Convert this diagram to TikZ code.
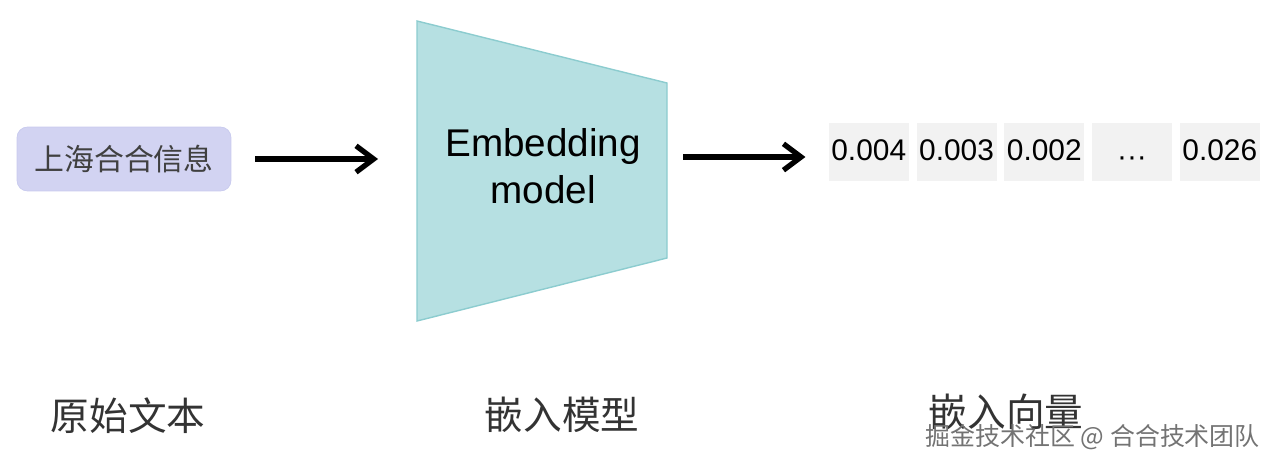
\documentclass[tikz,border=0pt]{standalone}
\usepackage{fontspec}
\setmainfont{Liberation Sans}
\newfontfamily\cjk{Noto Sans CJK SC}
\usepackage{tikz}
\usetikzlibrary{arrows.meta}
\usepackage{xcolor}
\definecolor{inputlav}{RGB}{210,211,242}
\definecolor{inputedge}{RGB}{200,202,238}
\definecolor{modelteal}{RGB}{182,224,226}
\definecolor{modeledge}{RGB}{140,204,207}
\definecolor{cellgray}{RGB}{242,242,242}

\tikzset{
    inbox/.style={fill=inputlav, draw=inputedge, rounded corners=6pt,
        minimum width=4.28cm, minimum height=1.28cm, inner sep=0pt,
        font=\cjk\fontsize{17}{20}\selectfont, text=black!75},
    flow/.style={line width=3pt, -{Straight Barb[length=10pt, width=15pt]}},
    cell/.style={fill=cellgray, minimum width=1.6cm, minimum height=1.16cm,
        inner sep=0pt, text height=1em, text depth=0pt,
        font=\fontsize{17}{20}\selectfont},
    caption/.style={font=\cjk\fontsize{22}{26}\selectfont, text=black!80},
    watermark/.style={font=\cjk\fontsize{14.2}{16}\selectfont, text=black!55}
}

\begin{document}
\begin{tikzpicture}[x=0.02cm, y=-0.02cm]
    \useasboundingbox (0,0) rectangle (1280,463);

    % Input text
    \node[inbox] (src) at (124,159) {上海合合信息};

    % Embedding model
    \coordinate (mtl) at (417,21);
    \coordinate (mtr) at (667,83);
    \coordinate (mbr) at (667,258);
    \coordinate (mbl) at (417,321);
    \filldraw[fill=modelteal, draw=modeledge, line width=0.8pt]
        (mtl) -- (mtr) -- (mbr) -- (mbl) -- cycle;
    \node[align=center, font=\fontsize{22}{26.6}\selectfont] (model) at (543,166)
        {Embedding\\model};

    % Output vector
    \foreach \v [count=\i] in {0.004, 0.003, 0.002, \raisebox{-0.2em}{···}, 0.026}
        \node[cell] (v\i) at ({781+87.75*\i},152) {\v};

    % Arrows
    \draw[flow, shorten <=0.48cm, shorten >=0.78cm] (src.east) -- (src.east -| mtl);
    \draw[flow, shorten <=0.32cm, shorten >=0.46cm] (mtr |- v1.west) ++(0,5) coordinate (outstart)
        (outstart) -- (outstart -| v1.west);

    % Captions
    \node[caption] (capsrc) at (128,416) {原始文本};
    \node[caption] (capmodel) at (562,415) {嵌入模型};
    \node[caption] (capvec) at (1006,412) {嵌入向量};
    \node[watermark, anchor=east] (mark) at (1266,437) {掘金技术社区 @ 合合技术团队};
\end{tikzpicture}
\end{document}
